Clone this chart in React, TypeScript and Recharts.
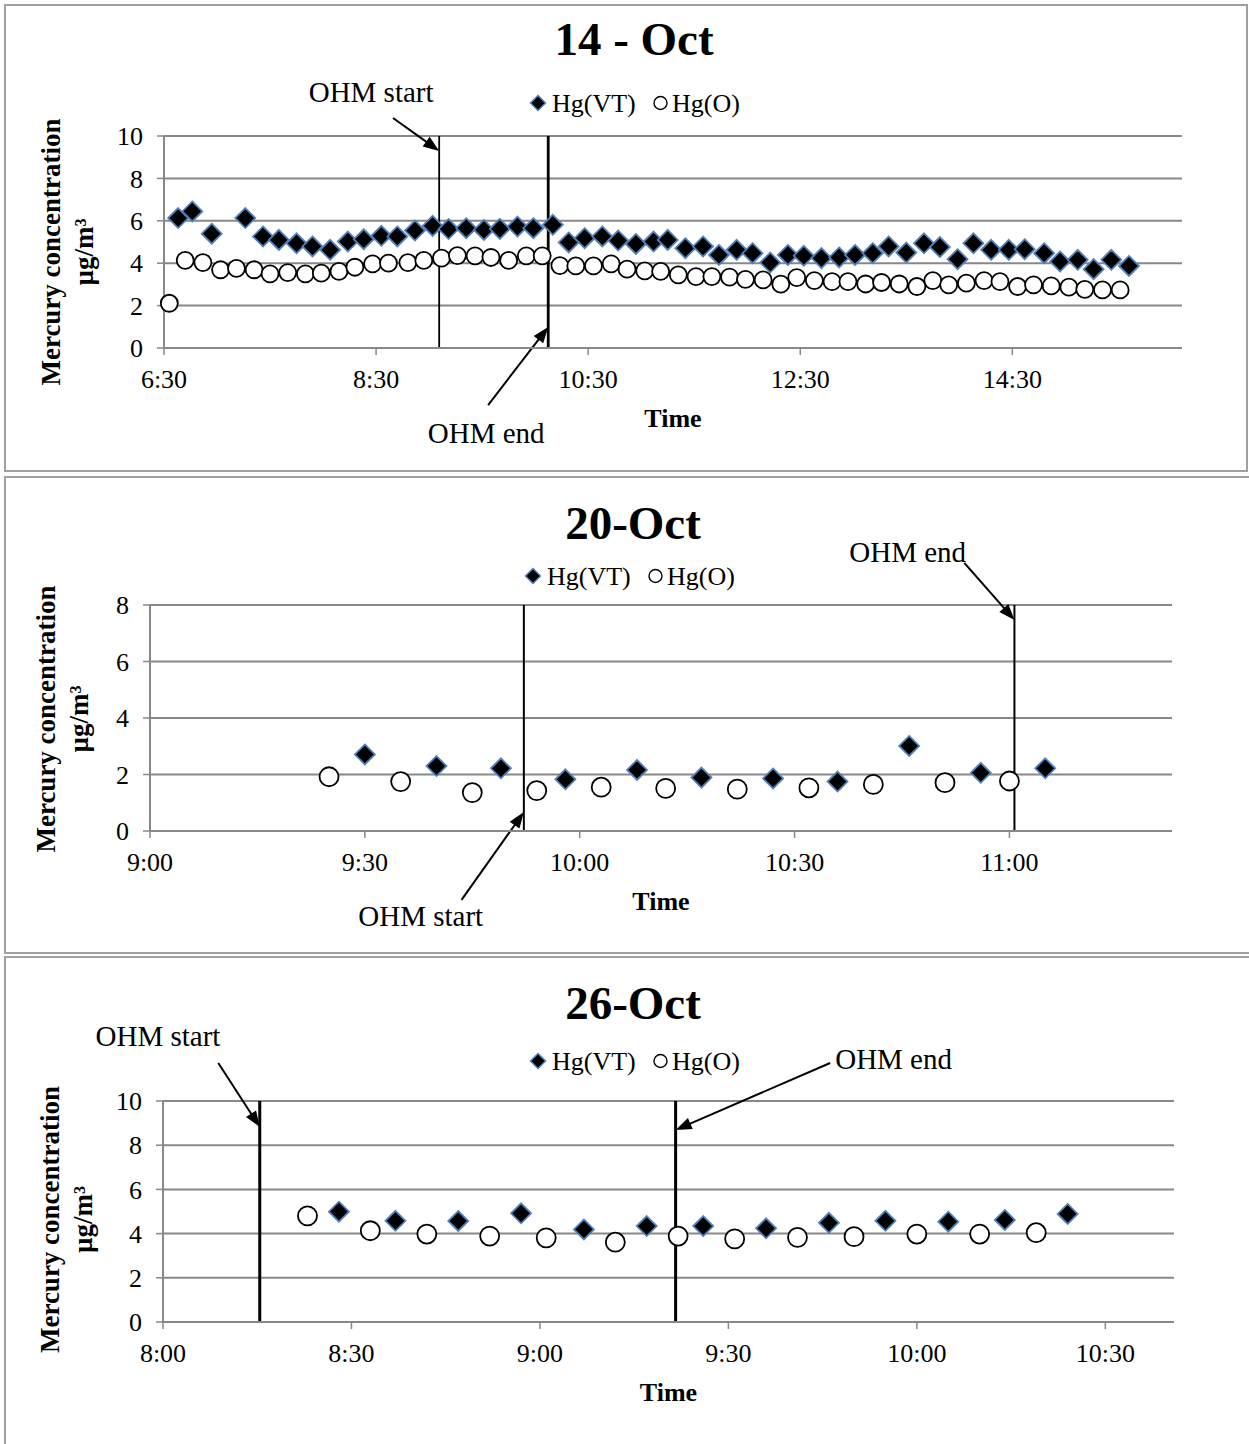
import React from 'react';
import { ScatterChart, Scatter, XAxis, YAxis, CartesianGrid, ReferenceLine, ReferenceDot } from 'recharts';

const FONT = '"Liberation Serif", "Times New Roman", Times, serif';
const GRID = '#888888';
const BORDER = '#a0a0a0';
const VT_FILL = '#000000';
const VT_EDGE = '#4f81bd';

// ---------- 14 - Oct ----------
const oct14VtTimes = ['6:38','6:46','6:57','7:16','7:26','7:35','7:45','7:54','8:04','8:14','8:23','8:33','8:42','8:52','9:02','9:11','9:21','9:31','9:40','9:50','9:59','10:10','10:19','10:28','10:38','10:47','10:57','11:07','11:15','11:25','11:35','11:44','11:54','12:03','12:13','12:23','12:32','12:42','12:52','13:01','13:11','13:20','13:30','13:40','13:49','13:59','14:08','14:18','14:28','14:37','14:48','14:57','15:07','15:16','15:26','15:36'];
const oct14VtValues = [6.13,6.44,5.39,6.13,5.26,5.10,4.94,4.79,4.63,5.02,5.13,5.29,5.26,5.54,5.76,5.61,5.65,5.57,5.62,5.73,5.65,5.81,4.98,5.18,5.26,5.07,4.91,5.02,5.10,4.71,4.79,4.39,4.63,4.47,4.03,4.39,4.35,4.24,4.27,4.39,4.47,4.79,4.50,4.94,4.76,4.19,4.94,4.63,4.63,4.66,4.47,4.08,4.16,3.72,4.16,3.87];
const oct14OTimes = ['6:33','6:42','6:52','7:02','7:11','7:21','7:30','7:40','7:50','7:59','8:09','8:18','8:28','8:37','8:48','8:57','9:07','9:16','9:26','9:35','9:45','9:55','10:04','10:14','10:23','10:33','10:43','10:52','11:02','11:11','11:21','11:31','11:40','11:50','11:59','12:09','12:19','12:28','12:38','12:48','12:57','13:07','13:16','13:26','13:36','13:45','13:54','14:04','14:14','14:23','14:33','14:42','14:52','15:02','15:11','15:21','15:31'];
const oct14OValues = [2.11,4.13,4.03,3.69,3.76,3.69,3.50,3.56,3.50,3.53,3.61,3.81,3.97,4.00,4.03,4.13,4.24,4.36,4.35,4.27,4.13,4.35,4.35,3.89,3.87,3.87,3.97,3.72,3.64,3.61,3.45,3.37,3.37,3.34,3.24,3.21,3.01,3.32,3.18,3.13,3.13,3.02,3.09,3.02,2.90,3.18,2.98,3.06,3.18,3.13,2.90,2.98,2.93,2.87,2.77,2.74,2.74];
const oct14XTicks = ['6:30','8:30','10:30','12:30','14:30'];
const oct14XRange = ['6:30','16:06'];
const oct14YTicks = [0,2,4,6,8,10];
const oct14OhmStart = '9:05:42';
const oct14OhmEnd = '10:07:24';

// ---------- 20-Oct ----------
const oct20VtTimes = ['9:30','9:40','9:49','9:58','10:08','10:17','10:27','10:36','10:46','10:56','11:05'];
const oct20VtValues = [2.71,2.30,2.22,1.83,2.16,1.89,1.86,1.75,3.01,2.06,2.22];
const oct20OTimes = ['9:25','9:35','9:45','9:54','10:03','10:12','10:22','10:32','10:41','10:51','11:00'];
const oct20OValues = [1.92,1.75,1.36,1.43,1.55,1.51,1.48,1.53,1.65,1.71,1.77];
const oct20XTicks = ['9:00','9:30','10:00','10:30','11:00'];
const oct20XRange = ['9:00','11:22:42'];
const oct20YTicks = [0,2,4,6,8];
const oct20OhmStart = '9:52:12';
const oct20OhmEnd = '11:00:42';

// ---------- 26-Oct ----------
const oct26VtTimes = ['8:28','8:37','8:47','8:57','9:07','9:17','9:26','9:36','9:46','9:55','10:05','10:14','10:24'];
const oct26VtValues = [4.99,4.58,4.57,4.92,4.19,4.34,4.34,4.24,4.49,4.58,4.54,4.62,4.89];
const oct26OTimes = ['8:23','8:33','8:42','8:52','9:01','9:12','9:22','9:31','9:41','9:50','10:00','10:10','10:19'];
const oct26OValues = [4.80,4.13,3.98,3.89,3.81,3.61,3.89,3.76,3.83,3.86,3.98,3.98,4.04];
const oct26XTicks = ['8:00','8:30','9:00','9:30','10:00','10:30'];
const oct26XRange = ['8:00','10:40:56'];
const oct26YTicks = [0,2,4,6,8,10];
const oct26OhmStart = '8:15:24';
const oct26OhmEnd = '9:21:36';

const seriesNames = ['Hg(VT)', 'Hg(O)'];

const toMin = (s: string) => {
  const p = s.split(':').map(Number);
  return p[0] * 60 + p[1] + (p[2] || 0) / 60;
};
const fmt = (m: number) => {
  const h = Math.floor(m / 60);
  const mm = Math.round(m - h * 60);
  return `${h}:${String(mm).padStart(2, '0')}`;
};
const pts = (times: string[], values: number[]) => times.map((t, i) => ({ t: toMin(t), v: values[i] }));

type Anno = { text: string; t: string; v: number };
type Arrow = { from: [string, number]; to: [string, number] };

type PanelCfg = {
  top: number; height: number;
  margin: { top: number; right: number; bottom: number; left: number };
  yAxisWidth: number; yMax: number; yTicks: number[];
  xTicks: string[]; xRange: string[];
  vt: { t: number; v: number }[]; o: { t: number; v: number }[];
  ohmStart: string; ohmEnd: string; startW: number; endW: number;
  arrows: Arrow[]; labels: Anno[];
  symR: number; circR: number;
  yLab: { x1: number; x2: number; dy: number };
};

const arrowShape = (props: any) => {
  const { x1, y1, x2, y2 } = props;
  const dx = x2 - x1, dy = y2 - y1;
  const len = Math.hypot(dx, dy) || 1;
  const ux = dx / len, uy = dy / len;
  const L = 16, W = 6;
  const bx = x2 - ux * L, by = y2 - uy * L;
  return (
    <g>
      <line x1={x1} y1={y1} x2={bx + ux * 2} y2={by + uy * 2} stroke="#000" strokeWidth={2} />
      <polygon points={`${x2},${y2} ${bx - uy * W},${by + ux * W} ${bx + uy * W},${by - ux * W}`} fill="#000" />
    </g>
  );
};

function Panel({ cfg }: { cfg: PanelCfg }) {
  const r = cfg.symR;
  const cr = cfg.circR;
  const diamond = (p: any) => (
    <polygon
      points={`${p.cx},${p.cy - r} ${p.cx + r},${p.cy} ${p.cx},${p.cy + r} ${p.cx - r},${p.cy}`}
      fill={VT_FILL} stroke={VT_EDGE} strokeWidth={1.8}
    />
  );
  const circle = (p: any) => (
    <circle cx={p.cx} cy={p.cy} r={cr} fill="#fff" stroke="#000" strokeWidth={1.8} />
  );
  const yLabel = (p: any) => {
    const vb = p.viewBox || {};
    const cy = (vb.y || 0) + (vb.height || 0) / 2 + cfg.yLab.dy;
    const { x1, x2 } = cfg.yLab;
    return (
      <g fontFamily={FONT} fontWeight="bold" fontSize={27} fill="#000">
        <text x={x1} y={cy} textAnchor="middle" transform={`rotate(-90 ${x1} ${cy})`}>Mercury concentration</text>
        <text x={x2} y={cy} textAnchor="middle" transform={`rotate(-90 ${x2} ${cy})`}>µg/m³</text>
      </g>
    );
  };
  const xLabel = (p: any) => {
    const vb = p.viewBox || {};
    return (
      <text x={(vb.x || 0) + (vb.width || 0) / 2} y={(vb.y || 0) + 79} textAnchor="middle"
        fontFamily={FONT} fontWeight="bold" fontSize={26} fill="#000">Time</text>
    );
  };
  return (
    <div style={{ position: 'absolute', left: 0, top: cfg.top }}>
      <ScatterChart width={1249} height={cfg.height} margin={cfg.margin}>
        <CartesianGrid horizontal vertical={false} stroke={GRID} strokeWidth={2} />
        <XAxis
          type="number" dataKey="t"
          domain={[toMin(cfg.xRange[0]), toMin(cfg.xRange[1])]}
          ticks={cfg.xTicks.map(toMin)} interval={0} tickFormatter={fmt}
          height={60} axisLine={{ stroke: GRID, strokeWidth: 2 }}
          tickLine={{ stroke: GRID, strokeWidth: 1.5 }} tickSize={7} tickMargin={15}
          tick={{ fill: '#000', fontSize: 26, fontFamily: FONT }}
          label={{ content: xLabel }}
        />
        <YAxis
          type="number" dataKey="v" domain={[0, cfg.yMax]} ticks={cfg.yTicks} interval={0}
          width={cfg.yAxisWidth} axisLine={{ stroke: GRID, strokeWidth: 2 }}
          tickLine={{ stroke: GRID, strokeWidth: 1.5 }} tickSize={7} tickMargin={14}
          tick={{ fill: '#000', fontSize: 26, fontFamily: FONT }}
          label={{ content: yLabel }}
        />
        <Scatter name={seriesNames[1]} data={cfg.o} shape={circle} isAnimationActive={false} />
        <Scatter name={seriesNames[0]} data={cfg.vt} shape={diamond} isAnimationActive={false} />
        <ReferenceLine x={toMin(cfg.ohmStart)} stroke="#000" strokeWidth={cfg.startW} ifOverflow="visible" />
        <ReferenceLine x={toMin(cfg.ohmEnd)} stroke="#000" strokeWidth={cfg.endW} ifOverflow="visible" />
        {cfg.arrows.map((a, i) => (
          <ReferenceLine
            key={'a' + i}
            segment={[{ x: toMin(a.from[0]), y: a.from[1] }, { x: toMin(a.to[0]), y: a.to[1] }]}
            ifOverflow="visible" stroke="#000" shape={arrowShape}
          />
        ))}
        {cfg.labels.map((l, i) => (
          <ReferenceDot
            key={'l' + i} x={toMin(l.t)} y={l.v} r={0} ifOverflow="visible"
            shape={(p: any) => (
              <text x={p.cx} y={p.cy} dy="0.35em" textAnchor="middle" fontFamily={FONT} fontSize={29} fill="#000">{l.text}</text>
            )}
          />
        ))}
      </ScatterChart>
    </div>
  );
}

const panels: PanelCfg[] = [
  {
    top: 0, height: 471, margin: { top: 136, right: 67, bottom: 63, left: 0 },
    yAxisWidth: 164, yMax: 10, yTicks: oct14YTicks, xTicks: oct14XTicks, xRange: oct14XRange,
    vt: pts(oct14VtTimes, oct14VtValues), o: pts(oct14OTimes, oct14OValues),
    ohmStart: oct14OhmStart, ohmEnd: oct14OhmEnd, startW: 1.8, endW: 2.8,
    arrows: [
      { from: ['8:39:36', 10.85], to: [oct14OhmStart, 9.29] },
      { from: ['9:33:24', -2.69], to: [oct14OhmEnd, 0.99] },
    ],
    labels: [
      { text: 'OHM start', t: '8:27:12', v: 12.08 },
      { text: 'OHM end', t: '9:32:18', v: -4.01 },
    ],
    symR: 10, circR: 8.5, yLab: { x1: 60, x2: 93, dy: 10 },
  },
  {
    top: 474, height: 480, margin: { top: 131, right: 77, bottom: 63, left: 0 },
    yAxisWidth: 150, yMax: 8, yTicks: oct20YTicks, xTicks: oct20XTicks, xRange: oct20XRange,
    vt: pts(oct20VtTimes, oct20VtValues), o: pts(oct20OTimes, oct20OValues),
    ohmStart: oct20OhmStart, ohmEnd: oct20OhmEnd, startW: 2, endW: 2,
    arrows: [
      { from: ['10:53:42', 9.49], to: [oct20OhmEnd, 7.47] },
      { from: ['9:43:30', -2.44], to: [oct20OhmStart, 0.67] },
    ],
    labels: [
      { text: 'OHM end', t: '10:45:48', v: 9.88 },
      { text: 'OHM start', t: '9:37:48', v: -3.01 },
    ],
    symR: 10, circR: 9.5, yLab: { x1: 55, x2: 88, dy: 1 },
  },
  {
    top: 955, height: 489, margin: { top: 146, right: 75, bottom: 62, left: 0 },
    yAxisWidth: 163, yMax: 10, yTicks: oct26YTicks, xTicks: oct26XTicks, xRange: oct26XRange,
    vt: pts(oct26VtTimes, oct26VtValues), o: pts(oct26OTimes, oct26OValues),
    ohmStart: oct26OhmStart, ohmEnd: oct26OhmEnd, startW: 3, endW: 3,
    arrows: [
      { from: ['8:08:48', 11.72], to: [oct26OhmStart, 8.82] },
      { from: ['9:46:12', 11.72], to: ['9:21:36', 8.69] },
    ],
    labels: [
      { text: 'OHM start', t: '7:59:12', v: 12.94 },
      { text: 'OHM end', t: '9:56:18', v: 11.9 },
    ],
    symR: 10, circR: 9.5, yLab: { x1: 59, x2: 92, dy: 8 },
  },
];

const titles = [
  { text: '14 - Oct', x: 634, y: 55 },
  { text: '20-Oct', x: 633, y: 539 },
  { text: '26-Oct', x: 633, y: 1019 },
];
const legends = [
  { x: 530, y: 103 },
  { x: 525, y: 576 },
  { x: 530, y: 1061 },
];

function Overlay() {
  return (
    <svg width={1249} height={1444} style={{ position: 'absolute', left: 0, top: 0 }}>
      <rect x={5} y={5} width={1242} height={466} fill="none" stroke={BORDER} strokeWidth={2} />
      <rect x={5} y={477} width={1260} height={476} fill="none" stroke={BORDER} strokeWidth={2} />
      <rect x={5} y={957} width={1260} height={500} fill="none" stroke={BORDER} strokeWidth={2} />
      {titles.map((t, i) => (
        <text key={i} x={t.x} y={t.y} textAnchor="middle" fontFamily={FONT} fontWeight="bold" fontSize={47} fill="#000">{t.text}</text>
      ))}
      {legends.map((l, i) => (
        <g key={i} fontFamily={FONT} fontSize={26} fill="#000">
          <polygon points={`${l.x + 8},${l.y - 7.5} ${l.x + 15.5},${l.y} ${l.x + 8},${l.y + 7.5} ${l.x + 0.5},${l.y}`} fill={VT_FILL} stroke={VT_EDGE} strokeWidth={1.5} />
          <text x={l.x + 22} y={l.y + 8.5}>{seriesNames[0]}</text>
          <circle cx={l.x + 130.5} cy={l.y} r={6.5} fill="#fff" stroke="#000" strokeWidth={1.4} />
          <text x={l.x + 142} y={l.y + 8.5}>{seriesNames[1]}</text>
        </g>
      ))}
    </svg>
  );
}

export default function App() {
  return (
    <div style={{ position: 'absolute', left: 0, top: 0, width: 1249, height: 1444, background: '#fff', overflow: 'hidden' }}>
      <Overlay />
      {panels.map((p, i) => <Panel key={i} cfg={p} />)}
    </div>
  );
}
